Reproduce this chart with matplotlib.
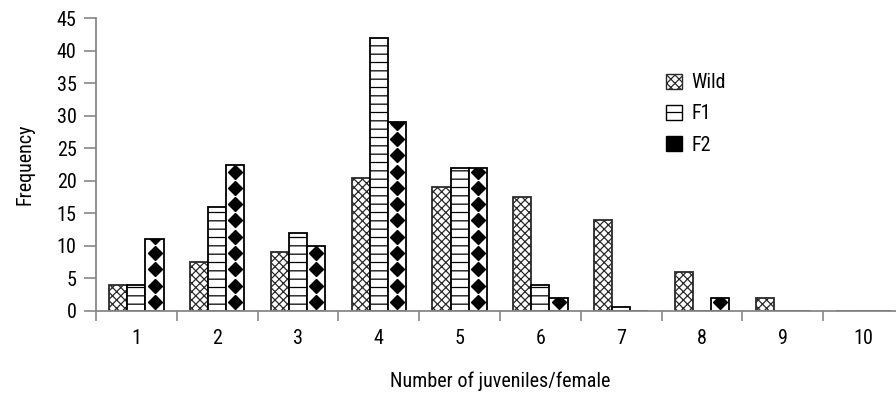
import matplotlib
matplotlib.use("Agg")
import matplotlib.pyplot as plt
import numpy as np
from matplotlib.patches import Patch

plt.rcParams['font.family'] = ['Roboto Condensed', 'Archivo Narrow', 'DejaVu Sans']
plt.rcParams['hatch.linewidth'] = 0.9

categories = ['1', '2', '3', '4', '5', '6', '7', '8', '9', '10']
wild = [4, 7.5, 9, 20.5, 19, 17.5, 14, 6, 2, 0]
f1 = [4, 16, 12, 42, 22, 4, 0.6, 0, 0, 0]
f2 = [11, 22.5, 10, 29, 22, 2, 0, 2, 0, 0]
series_names = ['Wild', 'F1', 'F2']
yticks = [0, 5, 10, 15, 20, 25, 30, 35, 40, 45]

fig = plt.figure(figsize=(8.96, 3.95), dpi=100)
ax = fig.add_axes([96/896, 1 - 311/395, 808/896, 293/395])

x = np.arange(1, len(categories) + 1)
w = 0.225
fs = 14.5

b1 = ax.bar(x - w, wild, w, facecolor='white', edgecolor='#2a2a2a', hatch='xxxx', linewidth=1.3)
b2 = ax.bar(x, f1, w, facecolor='white', edgecolor='black', hatch='--', linewidth=1.3)
b3 = ax.bar(x + w, f2, w, facecolor='white', edgecolor='black', linewidth=1.3)

# diamond fill for F2 bars, clipped to each bar
for rect, v in zip(b3, f2):
    if v <= 0:
        continue
    ys = np.arange(1.4, v + 1.25, 2.5)
    xc = rect.get_x() + rect.get_width() * 0.5
    pts = ax.plot(np.full_like(ys, xc), ys, linestyle='none', marker='D',
                  markersize=7, color='black')[0]
    pts.set_clip_path(rect)

ax.set_xlim(0.5, 10.5)
ax.set_ylim(0, 45)
ax.set_yticks(yticks)
ax.set_yticklabels([str(t) for t in yticks], fontsize=fs)
ax.set_xticks(x)
ax.set_xticklabels(categories, fontsize=fs)
ax.set_xticks(np.arange(0.5, 11, 1), minor=True)
ax.tick_params(axis='x', which='major', length=0, pad=13)
ax.tick_params(axis='x', which='minor', length=7, color='#888888', width=1.2)
ax.tick_params(axis='y', which='major', length=9, color='#888888', width=1.2, pad=5)
for s in ['top', 'right']:
    ax.spines[s].set_visible(False)
for s in ['left', 'bottom']:
    ax.spines[s].set_color('#888888')
    ax.spines[s].set_linewidth(1.3)

ax.set_xlabel('Number of juveniles/female', fontsize=fs, labelpad=17)
ax.set_ylabel('Frequency', fontsize=fs, labelpad=16)

handles = [
    Patch(facecolor='white', edgecolor='#2a2a2a', hatch='xxxx'),
    Patch(facecolor='white', edgecolor='black', hatch='--'),
    Patch(facecolor='black', edgecolor='black'),
]
leg = ax.legend(handles, series_names, loc='upper left', bbox_to_anchor=(0.683, 0.873),
                frameon=False, fontsize=fs, handlelength=0.8, handleheight=0.8,
                handletextpad=0.45, labelspacing=0.6)

fig.savefig('out.png', dpi=100)
